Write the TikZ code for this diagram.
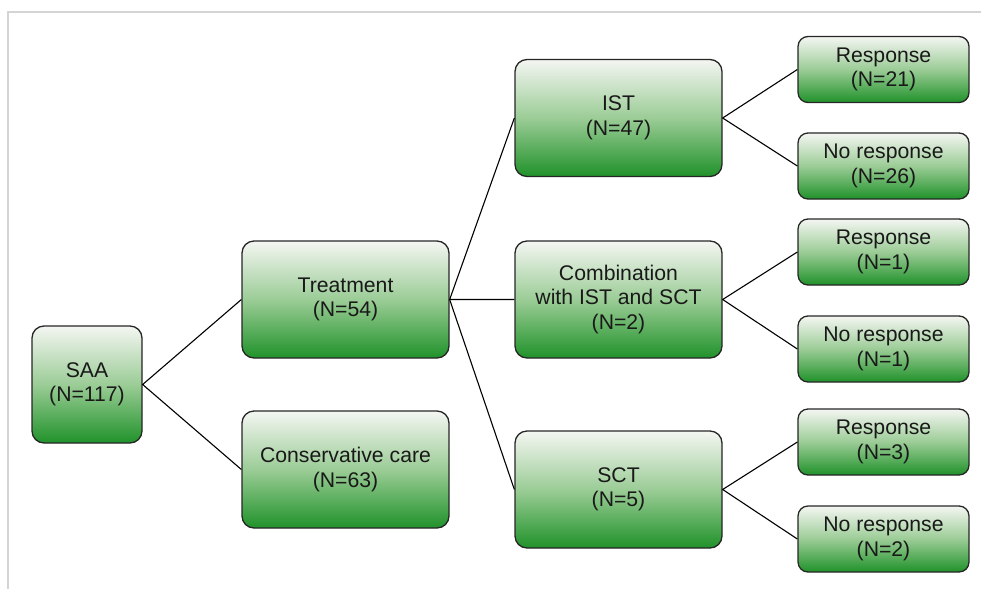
\documentclass[tikz,border=0pt]{standalone}
\usepackage{fontspec}
\setmainfont{Liberation Sans}
\definecolor{gtop}{RGB}{244,246,242}
\definecolor{gmid}{RGB}{155,204,150}
\definecolor{gbot}{RGB}{32,146,42}
\definecolor{frame}{RGB}{212,212,212}
\tikzset{
  box/.style={draw=black!85, line width=1.3pt, rounded corners=12pt,
    top color=gtop, bottom color=gbot, middle color=gmid,
    align=center, inner sep=0pt, font=\fontsize{21.2}{24.5}\selectfont,
    text=black!90},
  bigbox/.style={box, minimum width=207pt, minimum height=117pt},
  smallbox/.style={box, rounded corners=10pt, minimum width=171pt, minimum height=66pt},
  saabox/.style={box, minimum width=110pt, minimum height=117pt},
  link/.style={draw=black, line width=1.1pt}
}
\begin{document}
\begin{tikzpicture}[x=1pt,y=-1pt]
\useasboundingbox (0,0) rectangle (981,589);
\draw[frame, line width=2pt] (8,589) -- (8,12) -- (981,12);

\node[saabox] (saa) at (87,384.5) {SAA\\(N=117)};
\node[bigbox] (treat) at (345.5,299.5) {Treatment\\(N=54)};
\node[bigbox] (cons) at (345.5,469.5) {Conservative care\\(N=63)};
\node[bigbox] (ist) at (618.5,118) {IST\\(N=47)};
\node[bigbox] (comb) at (618.5,299.5) {Combination\\with IST and SCT\\(N=2)};
\node[bigbox] (sct) at (618.5,489.5) {SCT\\(N=5)};
\node[smallbox] (r1) at (883.5,69.5) {Response\\(N=21)};
\node[smallbox] (n1) at (883.5,166) {No response\\(N=26)};
\node[smallbox] (r2) at (883.5,252) {Response\\(N=1)};
\node[smallbox] (n2) at (883.5,349) {No response\\(N=1)};
\node[smallbox] (r3) at (883.5,442) {Response\\(N=3)};
\node[smallbox] (n3) at (883.5,539) {No response\\(N=2)};

\draw[link] (treat.west) -- (saa.east) -- (cons.west);
\draw[link] (ist.west) -- (treat.east) -- (comb.west);
\draw[link] (treat.east) -- (sct.west);
\draw[link] (r1.west) -- (ist.east) -- (n1.west);
\draw[link] (r2.west) -- (comb.east) -- (n2.west);
\draw[link] (r3.west) -- (sct.east) -- (n3.west);
\end{tikzpicture}
\end{document}
